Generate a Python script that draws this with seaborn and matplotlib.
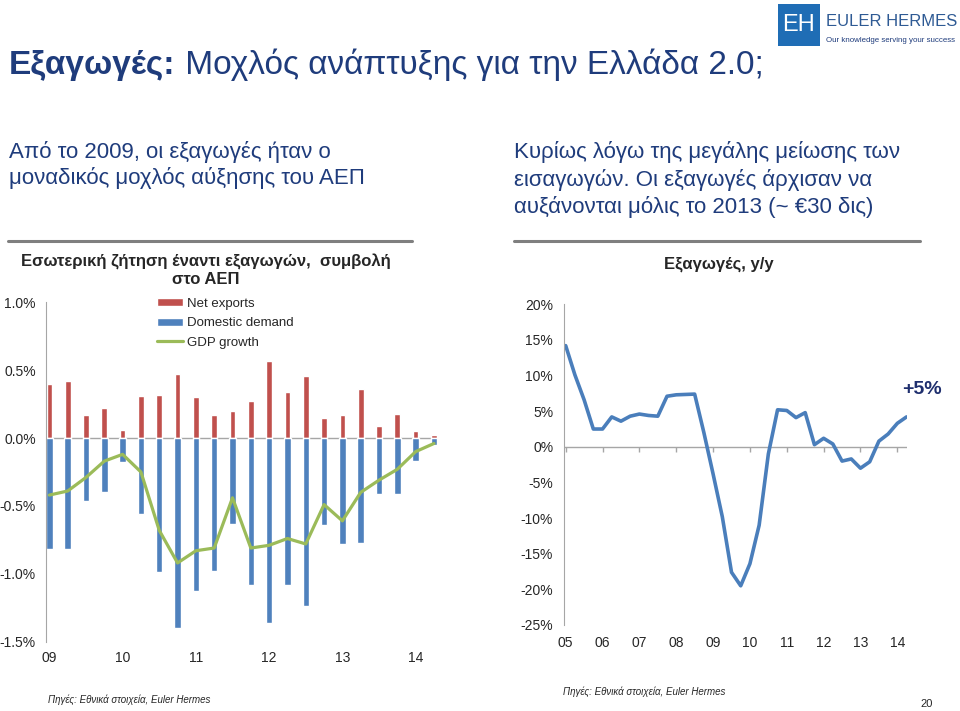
import numpy as np
import matplotlib
matplotlib.use("Agg")
import matplotlib.pyplot as plt
import seaborn as sns
from matplotlib.patches import Rectangle
from matplotlib.lines import Line2D

# ---- data: left chart, quarterly contributions to GDP (09Q1 .. 14Q2)
quarters = [f"{y:02d}Q{q}" for y in range(9, 15) for q in range(1, 5)][:22]
net_exports = [0.40, 0.42, 0.17, 0.22, 0.06, 0.31, 0.32, 0.47, 0.30, 0.17, 0.20,
               0.27, 0.57, 0.34, 0.46, 0.15, 0.17, 0.36, 0.09, 0.18, 0.05, 0.02]
domestic_demand = [-0.82, -0.82, -0.46, -0.40, -0.18, -0.56, -0.99, -1.40, -1.13, -0.98, -0.63,
                   -1.08, -1.36, -1.08, -1.24, -0.64, -0.78, -0.77, -0.41, -0.41, -0.17, -0.05]
gdp_growth = [-0.42, -0.39, -0.29, -0.17, -0.12, -0.25, -0.68, -0.92, -0.83, -0.81, -0.44,
              -0.81, -0.79, -0.74, -0.78, -0.49, -0.61, -0.40, -0.31, -0.23, -0.10, -0.04]
left_ticklabels = ["09", "10", "11", "12", "13", "14"]

# ---- data: right chart, exports y/y (05Q1 .. 14Q2)
exports_yy = [14.2, 10.1, 6.6, 2.5,
              2.5, 4.2, 3.6, 4.3,
              4.6, 4.4, 4.3, 7.1,
              7.3, 7.35, 7.4, 2.0,
              -3.8, -9.8, -17.6, -19.5,
              -16.4, -11.0, -1.0, 5.2,
              5.1, 4.1, 4.8, 0.3,
              1.2, 0.4, -2.0, -1.7,
              -3.0, -2.1, 0.8, 1.8,
              3.3, 4.2]
right_ticklabels = ["05", "06", "07", "08", "09", "10", "11", "12", "13", "14"]

RED = "#C0504D"
BLUE = "#4F81BD"
GREEN = "#9BBB59"
LINEBLUE = "#4A7EBB"
NAVY = "#1F3C7C"
GRID = "#A6A6A6"

sns.set_style("white")
plt.rcParams["font.family"] = ["Liberation Sans", "DejaVu Sans"]

fig = plt.figure(figsize=(9.6, 7.11), dpi=100)
W, H = 960, 711


def fx(px):
    return px / W


def fy(py):
    return 1 - py / H


# ---- left chart
ax1 = fig.add_axes([fx(45.7), 1 - 641.7 / H, 391 / W, 339.4 / H])
idx = np.arange(len(quarters))
sns.barplot(x=idx, y=net_exports, color=RED, width=0.31, native_scale=True,
            saturation=1, ax=ax1, label="Net exports")
sns.barplot(x=idx, y=domestic_demand, color=BLUE, width=0.35, native_scale=True,
            saturation=1, ax=ax1, label="Domestic demand")
sns.lineplot(x=idx, y=gdp_growth, color=GREEN, linewidth=2.3, ax=ax1, label="GDP growth")
ax1.axhline(0, color=GRID, lw=1, zorder=0.5)
ax1.set_xlim(-0.2, 21.15)
ax1.set_ylim(-1.5, 1.0)
ax1.set_yticks([1.0, 0.5, 0.0, -0.5, -1.0, -1.5])
ax1.set_yticklabels(["1.0%", "0.5%", "0.0%", "-0.5%", "-1.0%", "-1.5%"])
ax1.set_xticks(idx[::4])
ax1.set_xticklabels(left_ticklabels)
for s in ["top", "right", "bottom"]:
    ax1.spines[s].set_visible(False)
ax1.spines["left"].set_color(GRID)
ax1.tick_params(axis="y", length=3, color=GRID, labelsize=10, pad=4)
ax1.tick_params(axis="x", length=0, labelsize=10, pad=7)
handles, labels = ax1.get_legend_handles_labels()
order = [labels.index(n) for n in ["Net exports", "Domestic demand", "GDP growth"]]
ax1.legend([handles[i] for i in order], [labels[i] for i in order],
           loc="upper left", bbox_to_anchor=(0.27, 1.028), frameon=False, fontsize=9.5,
           handlelength=2.0, handleheight=0.55, labelspacing=0.55, handletextpad=0.3,
           borderaxespad=0)

# ---- right chart
ax2 = fig.add_axes([fx(564.3), 1 - 625 / H, (907 - 564.3) / W, (625 - 304.3) / H])
ridx = np.arange(len(exports_yy))
sns.lineplot(x=ridx, y=exports_yy, color=LINEBLUE, linewidth=2.6, ax=ax2)
ax2.axhline(0, color=GRID, lw=1, zorder=0.5)
ax2.vlines(ridx[::4], -0.7, 0, color=GRID, lw=1, zorder=0.5)
ax2.set_xlim(-0.15, 37.05)
ax2.set_ylim(-25, 20)
ax2.set_yticks([20, 15, 10, 5, 0, -5, -10, -15, -20, -25])
ax2.set_yticklabels([f"{v}%" for v in [20, 15, 10, 5, 0, -5, -10, -15, -20, -25]])
ax2.set_xticks(ridx[::4])
ax2.set_xticklabels(right_ticklabels)
for s in ["top", "right", "bottom"]:
    ax2.spines[s].set_visible(False)
ax2.spines["left"].set_color(GRID)
ax2.tick_params(axis="y", length=3, color=GRID, labelsize=10, pad=5)
ax2.tick_params(axis="x", length=0, labelsize=10, pad=8)
fig.text(fx(922), fy(389), "+5%", fontsize=14, fontweight="bold", color="#1F2F6E",
         ha="center", va="center")

# ---- header
t1 = fig.text(fx(9), fy(74), "Εξαγωγές:", fontsize=24, fontweight="bold",
              color=NAVY, va="baseline")
ax1.annotate(" Μοχλός ανάπτυξης για την Ελλάδα 2.0;", xy=(1, 0), xycoords=t1,
             fontsize=24, color=NAVY, va="bottom", ha="left", annotation_clip=False)

sub_kw = dict(fontsize=16, color=NAVY, va="center")
fig.text(fx(9), fy(152), "Από το 2009, οι εξαγωγές ήταν ο", **sub_kw)
fig.text(fx(9), fy(178), "μοναδικός μοχλός αύξησης του ΑΕΠ", **sub_kw)
fig.text(fx(514), fy(152), "Κυρίως λόγω της μεγάλης μείωσης των", **sub_kw)
fig.text(fx(514), fy(180), "εισαγωγών. Οι εξαγωγές άρχισαν να", **sub_kw)
fig.text(fx(514), fy(207), "αυξάνονται μόλις το 2013 (~ €30 δις)", **sub_kw)

# logo
fig.patches.append(Rectangle((fx(778), fy(46)), fx(42), 42 / H, transform=fig.transFigure,
                             facecolor="#1F6DB5", edgecolor="none"))
fig.text(fx(799), fy(25), "EH", fontsize=17, color="white", ha="center", va="center")
fig.text(fx(826), fy(22), "EULER HERMES", fontsize=12, color="#2E5A94", va="center")
fig.text(fx(826), fy(41), "Our knowledge serving your success", fontsize=5.7,
         color="#1F3C7C", va="center")

# separators
fig.add_artist(Line2D([fx(8), fx(412)], [fy(241), fy(241)], color="#7F7F7F", lw=2.2))
fig.add_artist(Line2D([fx(514), fx(920)], [fy(241), fy(241)], color="#7F7F7F", lw=2.2))

fig.text(fx(206), fy(262), "Εσωτερική ζήτηση έναντι εξαγωγών,  συμβολή", fontsize=12,
         fontweight="bold", ha="center", va="center")
fig.text(fx(206), fy(280), "στο ΑΕΠ", fontsize=12, fontweight="bold", ha="center", va="center")
fig.text(fx(719), fy(264), "Εξαγωγές, y/y", fontsize=12, fontweight="bold",
         ha="center", va="center")

# ---- footer
fig.text(fx(48), fy(700), "Πηγές: Εθνικά στοιχεία, Euler Hermes", fontsize=7,
         style="italic", va="center")
fig.text(fx(563), fy(692), "Πηγές: Εθνικά στοιχεία, Euler Hermes", fontsize=7,
         style="italic", va="center")
fig.text(fx(927), fy(704), "20", fontsize=8, ha="center", va="center")

fig.savefig("out.png", dpi=100)
